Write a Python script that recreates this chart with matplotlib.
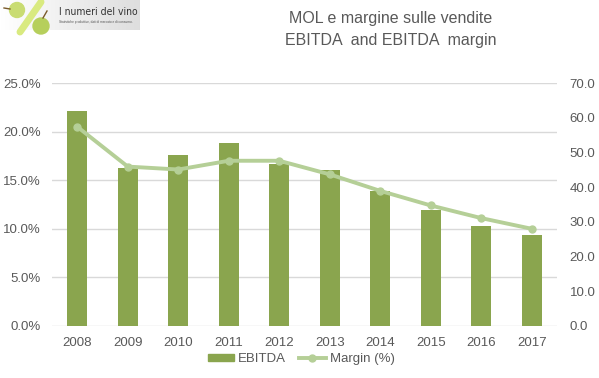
import matplotlib.pyplot as plt
import numpy as np
from matplotlib.lines import Line2D
from matplotlib.patches import Patch, Circle

years = ["2008", "2009", "2010", "2011", "2012", "2013", "2014", "2015", "2016", "2017"]
ebitda = [62.0, 45.6, 49.3, 52.8, 46.7, 45.0, 38.9, 33.5, 28.8, 26.2]
margin = [20.5, 16.4, 16.1, 17.0, 17.0, 15.6, 13.9, 12.4, 11.1, 10.0]

bar_col = "#8aa54e"
line_col = "#b5cf97"
txt_col = "#595959"

plt.rcParams['font.family'] = ['Liberation Sans', 'DejaVu Sans']

fig = plt.figure(figsize=(5.99, 3.78), dpi=100)
ax = fig.add_axes([52/599, 1-326/378, 505/599, 243/378])
ax2 = ax.twinx()

left_max, right_max = 25, 70
x = np.arange(len(years))

# grid follows the left (percent) ticks, drawn behind the bars
for t in np.arange(0, left_max + 1, 5):
    ax2.axhline(t * right_max / left_max, color="#d9d9d9", lw=1, zorder=0)

# bars on right axis, margin line on left axis
ax2.bar(x, ebitda, width=0.4, color=bar_col, zorder=2)
ax.plot(x, margin, color=line_col, lw=2.8, marker="o", ms=5, zorder=5)
ax.set_zorder(ax2.get_zorder() + 1)
ax.patch.set_visible(False)

ax.set_xlim(-0.5, len(years) - 0.5)
ax.set_ylim(0, left_max)
ax.set_yticks(np.arange(0, left_max + 1, 5))
ax.set_yticklabels([f"{v:.1f}%" for v in np.arange(0, left_max + 1, 5)])
ax2.set_ylim(0, right_max)
ax2.set_yticks(np.arange(0, right_max + 1, 10))
ax2.set_yticklabels([f"{v:.1f}" for v in np.arange(0, right_max + 1, 10)])
ax.set_xticks(x)
ax.set_xticklabels(years)

for a in (ax, ax2):
    for s in a.spines.values():
        s.set_visible(False)
    a.tick_params(length=0, colors=txt_col, labelsize=9.5)
ax.tick_params(axis="y", pad=8)
ax2.tick_params(axis="y", pad=9)
ax.tick_params(axis="x", pad=8)

# title
fig.text(391/599, 1-18/378, "MOL e margine sulle vendite", ha="center", va="center",
         fontsize=11.5, color=txt_col)
fig.text(391/599, 1-40/378, "EBITDA  and EBITDA  margin", ha="center", va="center",
         fontsize=11.5, color=txt_col)

# logo
lax = fig.add_axes([0, 1-40/378, 140/599, 40/378])
lax.set_xlim(0, 140)
lax.set_ylim(40, 0)
lax.axis("off")
grad = np.linspace(1, 0.87, 100).reshape(1, -1)
lax.imshow(np.dstack([grad, grad, grad]), extent=[0, 140, 30, 0], aspect="auto", zorder=0)
lax.plot([20, 41], [32, 2], color="#d9ea80", lw=5, solid_capstyle="round", zorder=2)
lax.add_patch(Circle((17, 10), 7.5, color="#c9dc72", zorder=3))
lax.add_patch(Circle((41, 26), 8, color="#b6cf5c", zorder=3))
lax.plot([4, 10], [8, 9], color="#7a5a2a", lw=1, zorder=3)
lax.plot([43, 47], [18, 11], color="#7a5a2a", lw=1, zorder=3)
lax.text(59, 12, "I numeri del vino", fontsize=7.5, color="#333333", va="center",
         family="DejaVu Sans", fontstretch="condensed", zorder=4)
lax.text(59, 22, "Statistiche produttive, dati di mercato e di consumo.", fontsize=2.3,
         color="#555555", va="center", zorder=4)

handles = [Patch(color=bar_col), Line2D([], [], color=line_col, lw=2.8, marker="o", ms=5)]
fig.legend(handles, ["EBITDA", "Margin (%)"], loc="center", bbox_to_anchor=(301/599, 1-359/378),
           ncol=2, frameon=False, fontsize=9.5, labelcolor=txt_col, handlelength=2.0,
           handleheight=0.5, handletextpad=0.3, columnspacing=1.0, borderpad=0)

fig.savefig("out.png", dpi=100)
